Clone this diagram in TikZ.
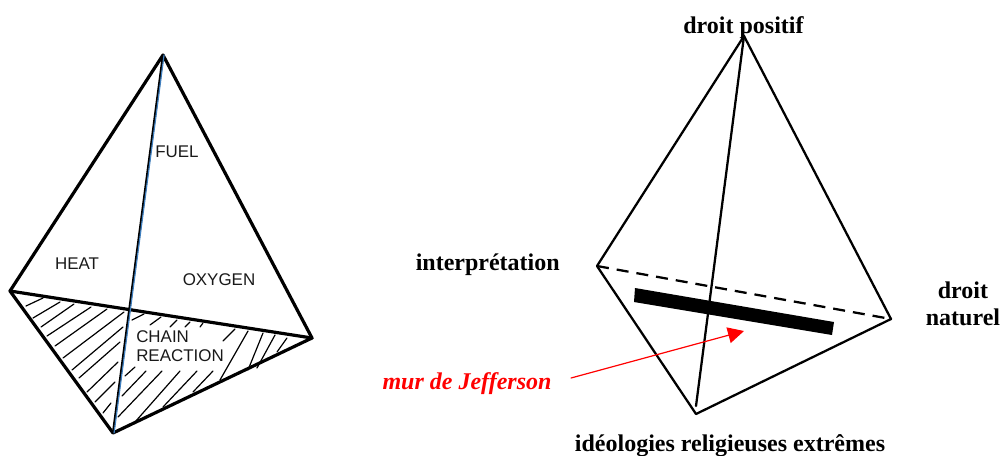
\documentclass[tikz,border=0pt]{standalone}
\usepackage{fontspec}
\setmainfont{Liberation Serif}
\setsansfont{Liberation Sans}
\usepackage{xcolor}
\usepackage{tikz}
\usetikzlibrary{
    arrows.meta
}
\definecolor{ink}     {HTML}{000000}
\definecolor{fuelblue}{HTML}{3F7FBF}
\definecolor{wall}    {HTML}{FF0000}

\begin{document}
\begin{tikzpicture}[
    x=0.75pt, y=-0.75pt,
    line cap=round, line join=round,
    %% --- semantic styles ---
    edgeleft/.style   = {draw=ink, line width=2.4pt},
    edgeright/.style  = {draw=ink, line width=1.7pt},
    hatchline/.style  = {draw=ink, line width=0.9pt},
    firelabel/.style  = {font=\sffamily\fontsize{12.7}{14}\selectfont, text=ink!90,
                         inner sep=0pt, align=left},
    lawlabel/.style   = {font=\bfseries\fontsize{18}{20}\selectfont, text=ink,
                         inner sep=0pt, align=center},
    walllabel/.style  = {font=\bfseries\itshape\fontsize{18}{20}\selectfont,
                         text=wall, inner sep=0pt},
    wallflow/.style   = {-{Triangle[length=12pt, width=12pt]}, draw=wall,
                         line width=0.9pt}
]
\useasboundingbox (0,0) rectangle (1003,455);

%% =====================================================
%% LEFT — fire tetrahedron
%% =====================================================
\coordinate (FTOP) at (163,55);
\coordinate (FLEFT) at (10,291);
\coordinate (FRIGHT) at (312,338);
\coordinate (FBOT) at (113,433);

% Hatching of the base, left of the fuel edge
\foreach \xa/\ya/\xb/\yb in {26/306/43/298, 33/318/60/302, 41/327/74/304,
    47/336/91/307, 55/346/107/309, 63/358/124/312, 72/370/123/327,
    79/378/120/342, 87/392/118/362, 95/402/115/382, 103/413/111/403}
    \draw[hatchline] (\xa,\ya) -- (\xb,\yb);
% Hatching right of the fuel edge, above and below the text
\foreach \xa/\ya/\xb/\yb in {132/320/144/314, 150/325/161/317, 170/327/177/320,
    185/327/190/322, 200/327/203/323, 223/341/235/329, 220/380/248/331,
    248/370/263/333, 257/368/275/335, 277/352/287/338,
    125/376/135/367, 122/396/146/371, 118/417/162/371,
    135/422/180/371, 163/407/197/371, 193/392/213/371}
    \draw[hatchline] (\xa,\ya) -- (\xb,\yb);

\draw[edgeleft] (FLEFT) -- (FTOP) -- (FRIGHT) -- (FBOT) -- cycle;
\draw[edgeleft] (FLEFT) -- (FRIGHT);
\draw[draw=ink, line width=1.7pt] (FTOP) -- (FBOT);
\draw[draw=fuelblue, line width=0.9pt] ([xshift=0.8pt]FTOP) -- ([xshift=0.8pt]FBOT);

\node[firelabel] (HEAT) at (77,264) {HEAT};
\node[firelabel] (FUEL) at (177,152) {FUEL};
\node[firelabel] (OXY) at (219,280) {OXYGEN};
\node[firelabel, anchor=west] (CHAIN) at (136,337) {CHAIN};
\node[firelabel, anchor=west] (REACT) at (136,356) {REACTION};

%% =====================================================
%% RIGHT — law tetrahedron
%% =====================================================
\coordinate (DTOP) at (744,36);
\coordinate (DLEFT) at (597,266);
\coordinate (DRIGHT) at (891,319);
\coordinate (DBOT) at (696,414);
\coordinate (DFOOT) at (696,406);

\draw[edgeright] (DLEFT) -- (DTOP) -- (DRIGHT) -- (DBOT) -- cycle;
\draw[edgeright] (DTOP) -- (DFOOT);
\draw[edgeright, dash pattern=on 9pt off 6pt, line cap=butt] (DLEFT) -- (DRIGHT);

% Black bar
\fill[ink] (635,288) -- (834,322) -- (832,335) -- (634,302) -- cycle;

\node[lawlabel] (POS) at (743.5,28) {droit positif};
\node[lawlabel, anchor=east] (INT) at (560,265) {interprétation};
\node[lawlabel] (NAT) at (963,304) {droit\\naturel};
\node[lawlabel] (IDEO) at (730,445.5) {idéologies religieuses extrêmes};
\node[walllabel] (MUR) at (467,384) {mur de Jefferson};

\coordinate (MURTIP) at (744,331);
\draw[wallflow] (571,378) -- (MURTIP);

\end{tikzpicture}
\end{document}
